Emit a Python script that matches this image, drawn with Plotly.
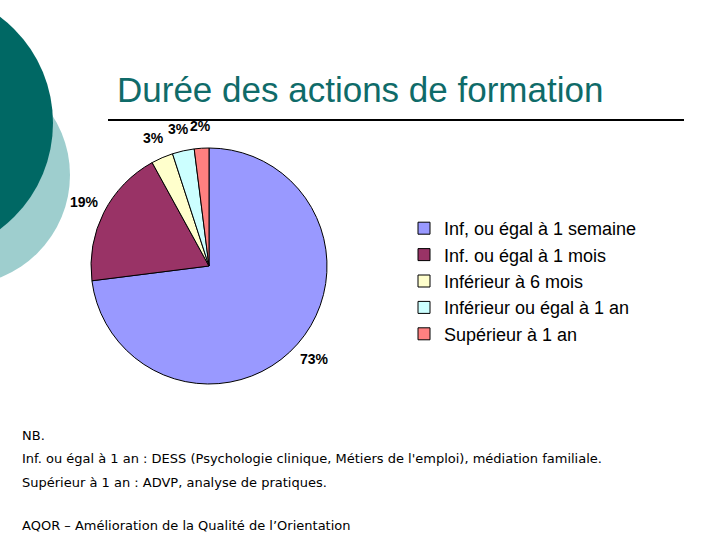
import math
import plotly.graph_objects as go

W, H = 720, 540

categories = ["Inf, ou égal à 1 semaine", "Inf. ou égal à 1 mois", "Inférieur à 6 mois",
              "Inférieur ou égal à 1 an", "Supérieur à 1 an"]
values = [73, 19, 3, 3, 2]
colors = ["#9999FF", "#993366", "#FFFFCC", "#CCFFFF", "#FF8080"]

title_text = "Durée des actions de formation"
notes = [
    "NB.",
    "Inf. ou égal à 1 an : DESS (Psychologie clinique, Métiers de l'emploi), médiation familiale.",
    "Supérieur à 1 an : ADVP, analyse de pratiques.",
    "AQOR – Amélioration de la Qualité de l’Orientation",
]
note_y = [435, 458, 482, 525]


def px(x):
    return x / W


def py(y):
    return 1 - y / H


cx, cy, r = 209, 266, 118

fig = go.Figure(go.Pie(
    labels=categories,
    values=values,
    sort=False,
    direction="clockwise",
    rotation=0,
    marker=dict(colors=colors, line=dict(color="#000000", width=1)),
    textinfo="none",
    hoverinfo="label+percent",
    domain=dict(x=[px(cx - r), px(cx + r)], y=[py(cy + r), py(cy - r)]),
    showlegend=True,
))

shapes = [
    dict(type="circle", xref="paper", yref="paper", layer="below",
         x0=px(-40 - 110), x1=px(-40 + 110), y0=py(175 + 110), y1=py(175 - 110),
         fillcolor="#9ECECE", line=dict(width=0)),
    dict(type="circle", xref="paper", yref="paper", layer="below",
         x0=px(-80 - 133), x1=px(-80 + 133), y0=py(123 + 133), y1=py(123 - 133),
         fillcolor="#006864", line=dict(width=0)),
    dict(type="line", xref="paper", yref="paper",
         x0=px(108), x1=px(684), y0=py(120), y1=py(120),
         line=dict(color="#000000", width=2)),
]

annotations = [
    dict(text=title_text, x=px(115), y=py(90), xref="paper", yref="paper",
         xanchor="left", yanchor="middle", showarrow=False,
         font=dict(family="Liberation Sans, Arial", size=35, color="#0F6B69")),
]

# percentage labels placed radially outside each slice (from the data)
total = sum(values)
cum = 0
label_r = r + 22
for v in values:
    mid = (cum + v / 2) / total * 2 * math.pi
    cum += v
    lx = cx + label_r * math.sin(mid)
    ly = cy - label_r * math.cos(mid)
    annotations.append(dict(text="<b>%d%%</b>" % round(v / total * 100),
                            x=px(lx), y=py(ly), xref="paper", yref="paper",
                            xanchor="center", yanchor="middle", showarrow=False,
                            font=dict(family="Liberation Sans, Arial", size=14, color="#000000")))

for t, yy in zip(notes, note_y):
    annotations.append(dict(text=t, x=px(20), y=py(yy), xref="paper", yref="paper",
                            xanchor="left", yanchor="middle", showarrow=False,
                            font=dict(family="DejaVu Sans", size=13, color="#000000")))

fig.update_layout(
    width=W, height=H,
    margin=dict(l=0, r=0, t=0, b=0),
    paper_bgcolor="#FFFFFF",
    plot_bgcolor="#FFFFFF",
    shapes=shapes,
    annotations=annotations,
    legend=dict(x=px(404), y=py(210), xanchor="left", yanchor="top",
                font=dict(family="Liberation Sans, Arial", size=18, color="#000000"),
                bgcolor="rgba(0,0,0,0)"),
)

fig.write_html("out.html", config=dict(displayModeBar=False),
               post_script="document.body.style.margin='0';")
